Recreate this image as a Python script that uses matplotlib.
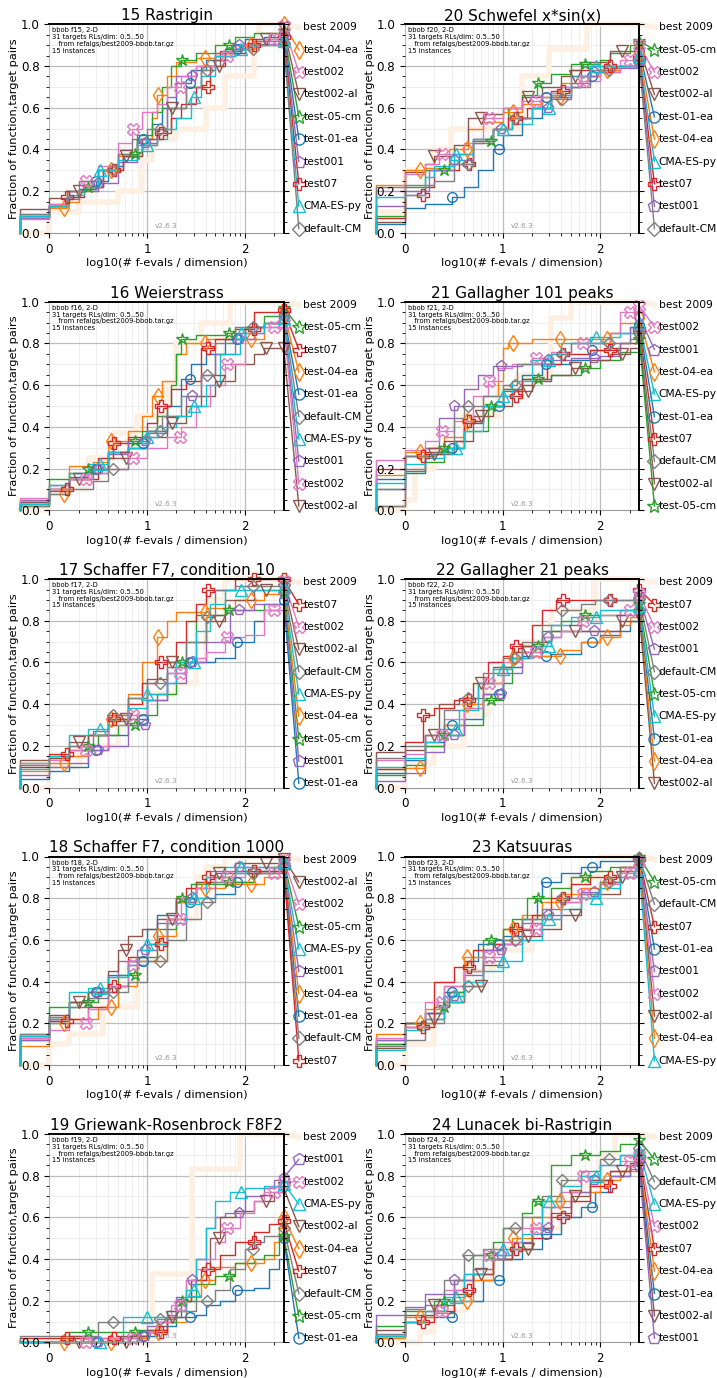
import numpy as np
import matplotlib.pyplot as plt
from matplotlib.ticker import FixedLocator, MultipleLocator

# ---- algorithms and styles (COCO-like) ----
algs = ['test-01-ea', 'test-04-ea', 'test-05-cm', 'test07', 'test001',
        'test002-al', 'test002', 'default-CM', 'CMA-ES-py']
colors = {'test-01-ea': '#1f77b4', 'test-04-ea': '#ff7f0e', 'test-05-cm': '#2ca02c',
          'test07': '#d62728', 'test001': '#9467bd', 'test002-al': '#8c564b',
          'test002': '#e377c2', 'default-CM': '#7f7f7f', 'CMA-ES-py': '#17becf'}
markers = {'test-01-ea': 'o', 'test-04-ea': 'd', 'test-05-cm': '*', 'test07': 'P',
           'test001': 'p', 'test002-al': 'v', 'test002': 'X', 'default-CM': 'D',
           'CMA-ES-py': '^'}
msizes = {'o': 7, 'd': 8, '*': 9, 'P': 8, 'p': 8, 'v': 8, 'X': 8, 'D': 6, '^': 8}
mark_start = {'test-01-ea': 0.48, 'test-04-ea': 0.15, 'test-05-cm': 0.40, 'test07': 0.18,
              'test001': 0.50, 'test002-al': 0.30, 'test002': 0.38, 'default-CM': 0.65,
              'CMA-ES-py': 0.52}
ref_name = 'best 2009'

# ---- ECDF breakpoints: (log10 evals/dim, fraction) ----
f15 = {
    'best 2009': [(-0.3, 0), (0, .1), (.3, .15), (.7, .2), (.95, .35), (1.05, .45), (1.3, .5), (1.6, .6), (1.8, .75), (2.1, .88), (2.15, 1.0), (2.4, 1.0)],
    'test-01-ea': [(-0.3, .08), (0, .13), (.18, .17), (.3, .21), (.48, .25), (.6, .32), (.75, .37), (.9, .45), (1.05, .52), (1.15, .6), (1.3, .72), (1.45, .78), (1.6, .83), (1.8, .88), (2.0, .93), (2.2, .94), (2.4, .96)],
    'test-04-ea': [(-0.3, .09), (0, .12), (.18, .15), (.3, .2), (.5, .3), (.7, .37), (.9, .45), (1.05, .55), (1.1, .66), (1.2, .75), (1.3, .82), (1.5, .84), (1.7, .86), (1.9, .9), (2.1, .92), (2.25, .96), (2.4, 1.0)],
    'test-05-cm': [(-0.3, .08), (0, .14), (.18, .2), (.35, .22), (.5, .3), (.7, .38), (.9, .47), (1.05, .58), (1.15, .7), (1.25, .8), (1.35, .83), (1.5, .86), (1.7, .9), (1.9, .94), (2.1, .96), (2.4, .97)],
    'test07': [(-0.3, .07), (0, .13), (.18, .17), (.35, .22), (.55, .3), (.75, .37), (.95, .42), (1.1, .48), (1.25, .55), (1.35, .62), (1.5, .7), (1.65, .8), (1.8, .86), (2.0, .9), (2.4, .94)],
    'test001': [(-0.3, .07), (0, .13), (.18, .16), (.3, .2), (.5, .24), (.7, .34), (.9, .43), (1.1, .5), (1.2, .65), (1.3, .75), (1.5, .8), (1.7, .86), (1.9, .9), (2.1, .92), (2.4, .95)],
    'test002-al': [(-0.3, .115), (0, .165), (.2, .2), (.35, .22), (.55, .3), (.75, .37), (.95, .45), (1.1, .5), (1.25, .6), (1.4, .7), (1.55, .8), (1.75, .87), (1.95, .9), (2.2, .93), (2.4, .98)],
    'test002': [(-0.3, .065), (0, .14), (.18, .2), (.35, .25), (.5, .32), (.7, .43), (.85, .5), (.95, .58), (1.1, .62), (1.2, .7), (1.35, .75), (1.5, .8), (1.7, .85), (1.9, .9), (2.2, .93), (2.4, .99)],
    'default-CM': [(-0.3, .09), (0, .13), (.18, .2), (.3, .25), (.5, .3), (.7, .38), (.85, .45), (1.0, .5), (1.2, .6), (1.4, .7), (1.55, .78), (1.7, .85), (1.9, .88), (2.1, .905), (2.4, .91)],
    'CMA-ES-py': [(-0.3, .08), (0, .13), (.2, .18), (.35, .22), (.5, .3), (.7, .35), (.9, .42), (1.1, .45), (1.2, .5), (1.3, .55), (1.45, .65), (1.55, .75), (1.7, .85), (1.9, .88), (2.1, .9), (2.4, .92)],
}
f20 = {
    'best 2009': [(-0.3, .1), (0, .3), (.3, .4), (.47, .5), (1.2, .75), (1.47, .88), (1.86, 1.0), (2.4, 1.0)],
    'test-05-cm': [(-0.3, .08), (0, .22), (.2, .3), (.45, .33), (.55, .38), (.7, .44), (.9, .5), (1.05, .6), (1.2, .66), (1.35, .72), (1.5, .76), (1.7, .81), (2.0, .83), (2.1, .86), (2.3, .9), (2.4, .92)],
    'test002': [(-0.3, .2), (0, .28), (.2, .33), (.35, .38), (.6, .43), (.8, .55), (1.0, .6), (1.2, .63), (1.4, .67), (1.6, .7), (1.8, .73), (2.0, .77), (2.2, .83), (2.4, .9)],
    'test002-al': [(-0.3, .05), (0, .29), (.2, .33), (.3, .37), (.5, .42), (.65, .55), (.8, .57), (1.0, .6), (1.2, .65), (1.4, .7), (1.6, .75), (1.8, .82), (2.1, .87), (2.4, .89)],
    'test-01-ea': [(-0.3, .04), (0, .12), (.2, .14), (.48, .17), (.6, .22), (.75, .3), (.9, .4), (1.0, .47), (1.2, .55), (1.4, .65), (1.6, .7), (1.8, .75), (2.0, .77), (2.2, .8), (2.4, .87)],
    'test-04-ea': [(-0.3, .23), (0, .3), (.2, .31), (.45, .4), (.65, .5), (.8, .53), (1.0, .58), (1.2, .62), (1.4, .65), (1.6, .72), (1.8, .75), (2.0, .78), (2.2, .8), (2.4, .86)],
    'CMA-ES-py': [(-0.3, .17), (0, .18), (.2, .27), (.3, .32), (.5, .38), (.7, .45), (.9, .5), (1.1, .52), (1.3, .6), (1.5, .66), (1.7, .75), (1.9, .8), (2.4, .85)],
    'test07': [(-0.3, .07), (0, .18), (.2, .22), (.3, .3), (.55, .33), (.7, .45), (.9, .5), (1.05, .55), (1.25, .6), (1.5, .68), (1.7, .78), (1.9, .8), (2.4, .84)],
    'test001': [(-0.3, .13), (0, .2), (.25, .3), (.5, .35), (.7, .45), (.9, .5), (1.1, .55), (1.3, .6), (1.5, .65), (1.7, .72), (1.9, .77), (2.1, .79), (2.4, .83)],
    'default-CM': [(-0.3, .22), (0, .23), (.3, .25), (.5, .33), (.7, .43), (.9, .5), (1.1, .55), (1.3, .6), (1.5, .64), (1.7, .7), (1.9, .78), (2.1, .8), (2.4, .82)],
}
f16 = {
    'best 2009': [(-0.3, 0), (0, .1), (.4, .25), (.65, .37), (.9, .45), (1.2, .6), (1.3, .8), (1.55, .9), (1.85, 1.0), (2.4, 1.0)],
    'test-05-cm': [(-0.3, .02), (0, .15), (.2, .18), (.4, .2), (.6, .28), (.8, .33), (.95, .38), (1.1, .45), (1.2, .5), (1.25, .6), (1.3, .75), (1.35, .82), (1.5, .84), (1.8, .85), (2.0, .88), (2.2, .93), (2.4, .97)],
    'test07': [(-0.3, .04), (0, .1), (.2, .15), (.5, .25), (.65, .32), (.8, .35), (1.0, .42), (1.1, .5), (1.25, .58), (1.4, .62), (1.55, .78), (1.7, .82), (1.9, .87), (2.1, .95), (2.4, .96)],
    'test-04-ea': [(-0.3, .05), (0, .08), (.2, .21), (.45, .23), (.6, .33), (.8, .38), (.95, .45), (1.05, .55), (1.15, .62), (1.3, .75), (1.4, .8), (1.6, .82), (2.2, .9), (2.4, .95)],
    'test-01-ea': [(-0.3, .03), (0, .1), (.2, .16), (.4, .2), (.6, .28), (.8, .32), (1.0, .38), (1.2, .5), (1.35, .63), (1.45, .7), (1.6, .75), (1.8, .82), (2.0, .88), (2.2, .9), (2.4, .94)],
    'default-CM': [(-0.3, .02), (0, .08), (.2, .1), (.45, .14), (.6, .2), (.8, .3), (1.0, .38), (1.15, .45), (1.35, .55), (1.55, .65), (1.7, .8), (1.9, .88), (2.2, .9), (2.4, .93)],
    'CMA-ES-py': [(-0.3, .03), (0, .12), (.2, .18), (.4, .22), (.6, .28), (.8, .3), (1.0, .35), (1.1, .4), (1.3, .45), (1.45, .5), (1.6, .6), (1.75, .75), (1.95, .85), (2.2, .9), (2.4, .92)],
    'test001': [(-0.3, .05), (0, .12), (.2, .15), (.45, .2), (.6, .27), (.8, .33), (1.0, .37), (1.2, .45), (1.4, .55), (1.55, .65), (1.7, .75), (1.9, .82), (2.1, .88), (2.4, .91)],
    'test002': [(-0.3, .06), (0, .1), (.2, .15), (.4, .18), (.6, .2), (.8, .25), (1.0, .3), (1.2, .35), (1.35, .4), (1.5, .5), (1.65, .6), (1.8, .7), (2.0, .85), (2.2, .88), (2.4, .9)],
    'test002-al': [(-0.3, .04), (0, .09), (.2, .15), (.4, .18), (.6, .25), (.8, .3), (1.0, .35), (1.2, .42), (1.4, .5), (1.55, .55), (1.7, .62), (1.9, .7), (2.1, .75), (2.2, .78), (2.4, .78)],
}
f21 = {
    'best 2009': [(-0.3, 0), (0, .05), (.1, .2), (.3, .3), (.6, .45), (.95, .58), (1.15, .65), (1.5, .92), (1.7, 1.0), (2.4, 1.0)],
    'test002': [(-0.3, .24), (0, .29), (.2, .33), (.35, .38), (.5, .43), (.7, .55), (.85, .62), (.95, .68), (1.1, .7), (1.3, .73), (1.5, .76), (1.7, .8), (2.1, .85), (2.2, .95), (2.4, .98)],
    'test001': [(-0.3, .1), (0, .2), (.2, .3), (.35, .44), (.5, .5), (.6, .58), (.75, .65), (.9, .69), (1.2, .7), (1.4, .72), (1.7, .73), (2.0, .74), (2.2, .8), (2.3, .88), (2.4, .93)],
    'test-04-ea': [(-0.3, .17), (0, .28), (.2, .3), (.4, .35), (.6, .43), (.8, .55), (.95, .62), (1.0, .78), (1.05, .8), (1.3, .82), (2.1, .85), (2.2, .9), (2.4, .92)],
    'CMA-ES-py': [(-0.3, .13), (0, .22), (.2, .25), (.4, .3), (.6, .38), (.8, .5), (1.0, .55), (1.1, .62), (1.3, .72), (1.5, .75), (1.6, .8), (1.9, .83), (2.2, .85), (2.4, .9)],
    'test-01-ea': [(-0.3, .15), (0, .18), (.2, .27), (.4, .3), (.6, .42), (.8, .5), (1.0, .58), (1.2, .65), (1.4, .7), (1.7, .72), (1.9, .77), (2.1, .85), (2.3, .88), (2.4, .89)],
    'test07': [(-0.3, .2), (0, .26), (.2, .28), (.4, .33), (.6, .43), (.8, .5), (1.0, .55), (1.2, .63), (1.45, .7), (1.6, .75), (1.9, .77), (2.2, .8), (2.4, .87)],
    'default-CM': [(-0.3, .02), (0, .26), (.3, .28), (.5, .44), (.6, .5), (.8, .55), (1.0, .6), (1.15, .7), (1.5, .75), (1.7, .8), (2.3, .82), (2.4, .85)],
    'test002-al': [(-0.3, .02), (0, .26), (.3, .27), (.5, .33), (.7, .45), (.9, .5), (1.1, .57), (1.3, .62), (1.5, .65), (1.7, .68), (1.9, .72), (2.1, .75), (2.3, .78), (2.4, .83)],
    'test-05-cm': [(-0.3, .1), (0, .19), (.2, .23), (.4, .3), (.6, .38), (.85, .5), (1.0, .57), (1.2, .63), (1.5, .65), (1.8, .68), (2.0, .72), (2.2, .76), (2.4, .82)],
}
f17 = {
    'best 2009': [(-0.3, 0), (0, .1), (.3, .2), (.7, .35), (1.0, .45), (1.3, .5), (1.5, .6), (1.6, .9), (1.8, 1.0), (2.4, 1.0)],
    'test07': [(-0.3, .1), (0, .16), (.2, .18), (.4, .25), (.6, .33), (.8, .4), (.95, .5), (1.1, .6), (1.3, .7), (1.4, .8), (1.5, .88), (1.6, .95), (1.9, 1.0), (2.4, 1.0)],
    'test002': [(-0.3, .12), (0, .13), (.2, .18), (.4, .2), (.6, .3), (.8, .35), (1.0, .45), (1.2, .55), (1.4, .62), (1.6, .65), (1.8, .72), (2.0, .73), (2.2, .85), (2.4, .99)],
    'test002-al': [(-0.3, .13), (0, .14), (.2, .22), (.4, .25), (.6, .33), (.8, .43), (1.0, .52), (1.2, .6), (1.4, .7), (1.6, .8), (1.8, .9), (2.1, .95), (2.4, .98)],
    'default-CM': [(-0.3, .11), (0, .15), (.2, .2), (.45, .27), (.6, .35), (.8, .43), (1.0, .5), (1.2, .58), (1.4, .7), (1.6, .82), (1.7, .95), (1.9, .965), (2.4, .97)],
    'CMA-ES-py': [(-0.3, .09), (0, .15), (.2, .25), (.4, .28), (.6, .32), (.8, .38), (1.0, .45), (1.2, .5), (1.3, .6), (1.5, .75), (1.65, .88), (1.8, .95), (2.4, .96)],
    'test-04-ea': [(-0.3, .08), (0, .12), (.2, .15), (.4, .25), (.6, .33), (.8, .45), (.95, .6), (1.1, .72), (1.2, .8), (1.3, .84), (1.6, .86), (1.9, .9), (2.2, .93), (2.4, .95)],
    'test-05-cm': [(-0.3, .12), (0, .14), (.2, .2), (.5, .25), (.7, .3), (.9, .35), (1.1, .45), (1.3, .6), (1.5, .83), (1.8, .85), (2.2, .88), (2.4, .94)],
    'test001': [(-0.3, .06), (0, .1), (.2, .12), (.4, .18), (.6, .2), (.8, .3), (1.0, .42), (1.2, .5), (1.4, .6), (1.6, .7), (1.85, .85), (2.1, .88), (2.4, .93)],
    'test-01-ea': [(-0.3, .04), (0, .08), (.2, .1), (.4, .18), (.6, .25), (.8, .33), (1.0, .42), (1.2, .55), (1.4, .6), (1.7, .62), (1.9, .7), (2.1, .8), (2.2, .85), (2.4, .9)],
}
f22 = {
    'best 2009': [(-0.3, 0), (0, .12), (.3, .2), (.6, .35), (.85, .5), (1.0, .6), (1.2, .7), (1.5, .85), (1.95, 1.0), (2.4, 1.0)],
    'test07': [(-0.3, .09), (0, .22), (.18, .35), (.3, .38), (.5, .42), (.7, .5), (.85, .6), (1.0, .63), (1.1, .68), (1.3, .78), (1.4, .85), (1.55, .9), (2.4, .95)],
    'test002': [(-0.3, .13), (0, .16), (.2, .25), (.4, .33), (.6, .38), (.8, .5), (1.0, .6), (1.2, .65), (1.4, .72), (1.6, .75), (1.8, .8), (2.0, .83), (2.2, .85), (2.4, .93)],
    'test001': [(-0.3, .03), (0, .07), (.2, .17), (.4, .25), (.6, .38), (.8, .45), (1.0, .55), (1.2, .65), (1.4, .72), (1.6, .75), (2.2, .83), (2.4, .92)],
    'default-CM': [(-0.3, .14), (0, .2), (.2, .25), (.4, .37), (.6, .43), (.8, .55), (1.0, .62), (1.2, .7), (1.4, .78), (1.6, .85), (1.8, .88), (1.95, .9), (2.4, .905)],
    'test-05-cm': [(-0.3, .06), (0, .11), (.2, .2), (.4, .25), (.6, .3), (.8, .42), (1.0, .5), (1.1, .62), (1.2, .68), (1.4, .75), (1.6, .8), (1.8, .83), (2.2, .85), (2.4, .88)],
    'CMA-ES-py': [(-0.3, .1), (0, .14), (.2, .22), (.35, .28), (.55, .37), (.75, .5), (.9, .57), (1.1, .62), (1.3, .68), (1.5, .78), (1.7, .82), (2.0, .85), (2.4, .87)],
    'test-01-ea': [(-0.3, .07), (0, .13), (.2, .22), (.4, .3), (.6, .33), (.8, .45), (1.0, .58), (1.2, .63), (1.5, .64), (1.8, .7), (2.0, .73), (2.2, .75), (2.3, .8), (2.4, .85)],
    'test-04-ea': [(-0.3, .09), (0, .095), (.2, .2), (.4, .3), (.6, .4), (.8, .5), (1.0, .58), (1.1, .62), (1.3, .63), (1.6, .66), (1.8, .7), (2.0, .72), (2.2, .78), (2.3, .82), (2.4, .84)],
    'test002-al': [(-0.3, .17), (0, .18), (.2, .25), (.35, .4), (.55, .43), (.75, .5), (.9, .58), (1.1, .65), (1.3, .7), (1.5, .75), (2.2, .8), (2.4, .83)],
}
f18 = {
    'best 2009': [(-0.3, 0), (0, .1), (.2, .15), (.55, .28), (.9, .5), (1.2, .7), (1.5, .9), (1.6, .95), (1.8, 1.0), (2.4, 1.0)],
    'test002-al': [(-0.3, .14), (0, .24), (.2, .3), (.4, .35), (.6, .45), (.7, .55), (.8, .62), (.95, .65), (1.1, .7), (1.3, .8), (1.5, .88), (1.7, .92), (1.9, .97), (2.4, .99)],
    'test002': [(-0.3, .13), (0, .17), (.2, .2), (.4, .27), (.6, .38), (.8, .48), (1.0, .58), (1.2, .7), (1.35, .8), (1.5, .85), (1.7, .9), (2.0, .92), (2.4, .985)],
    'test-05-cm': [(-0.3, .15), (0, .28), (.3, .3), (.5, .35), (.7, .43), (.9, .52), (1.1, .65), (1.3, .8), (1.45, .87), (1.8, .88), (2.1, .92), (2.3, .95), (2.4, .98)],
    'CMA-ES-py': [(-0.3, .14), (0, .2), (.2, .35), (.4, .37), (.6, .42), (.8, .48), (1.0, .58), (1.2, .68), (1.4, .8), (1.6, .9), (1.8, .95), (2.4, .975)],
    'test001': [(-0.3, .12), (0, .22), (.2, .3), (.4, .35), (.6, .42), (.7, .5), (.9, .55), (1.1, .68), (1.3, .8), (1.5, .88), (1.65, .93), (1.9, .95), (2.4, .97)],
    'test-04-ea': [(-0.3, .09), (0, .2), (.2, .22), (.5, .28), (.7, .38), (.9, .5), (1.1, .62), (1.3, .78), (1.5, .85), (1.8, .87), (2.2, .9), (2.4, .965)],
    'test-01-ea': [(-0.3, .12), (0, .22), (.2, .3), (.4, .35), (.6, .43), (.8, .5), (1.0, .65), (1.1, .72), (1.3, .78), (1.5, .8), (1.7, .82), (1.9, .88), (2.1, .93), (2.4, .96)],
    'default-CM': [(-0.3, .15), (0, .23), (.2, .28), (.4, .32), (.6, .35), (.8, .4), (1.0, .5), (1.2, .6), (1.4, .7), (1.55, .78), (1.7, .88), (1.9, .92), (2.4, .955)],
    'test07': [(-0.3, .13), (0, .21), (.2, .22), (.4, .28), (.6, .38), (.8, .52), (1.0, .58), (1.2, .7), (1.4, .85), (1.6, .9), (1.9, .93), (2.4, .95)],
}
f23 = {
    'best 2009': [(-0.3, 0), (0, .1), (.3, .3), (.6, .45), (.9, .55), (1.3, .7), (1.5, .8), (1.7, .9), (2.0, 1.0), (2.4, 1.0)],
    'test-05-cm': [(-0.3, .1), (0, .2), (.3, .28), (.45, .35), (.6, .45), (.8, .6), (1.0, .65), (1.1, .7), (1.25, .8), (1.5, .85), (1.7, .9), (1.9, .93), (2.1, .95), (2.4, 1.0)],
    'default-CM': [(-0.3, .09), (0, .12), (.2, .2), (.4, .3), (.6, .38), (.8, .5), (1.0, .6), (1.2, .7), (1.4, .75), (1.6, .8), (1.8, .82), (2.0, .88), (2.2, .95), (2.4, .995)],
    'test07': [(-0.3, .12), (0, .18), (.3, .4), (.5, .47), (.7, .55), (.9, .58), (1.1, .65), (1.3, .72), (1.5, .8), (1.7, .87), (1.9, .9), (2.2, .95), (2.4, .99)],
    'test-01-ea': [(-0.3, .1), (0, .2), (.2, .25), (.4, .35), (.6, .5), (.75, .58), (1.0, .62), (1.2, .7), (1.35, .8), (1.4, .88), (1.6, .92), (1.8, .95), (2.0, .98), (2.4, .985)],
    'test001': [(-0.3, .12), (0, .18), (.2, .25), (.4, .33), (.6, .43), (.8, .55), (1.0, .6), (1.2, .68), (1.4, .72), (1.6, .78), (1.8, .83), (2.0, .88), (2.2, .93), (2.4, .98)],
    'test002': [(-0.3, .13), (0, .18), (.2, .3), (.4, .38), (.6, .45), (.8, .52), (1.0, .58), (1.2, .65), (1.4, .7), (1.6, .78), (1.8, .82), (2.0, .87), (2.2, .92), (2.4, .975)],
    'test002-al': [(-0.3, .08), (0, .2), (.2, .22), (.4, .3), (.6, .38), (.8, .48), (1.0, .58), (1.2, .62), (1.4, .65), (1.6, .72), (1.8, .8), (2.0, .82), (2.2, .9), (2.4, .97)],
    'test-04-ea': [(-0.3, .15), (0, .2), (.2, .27), (.4, .38), (.6, .52), (.8, .55), (1.0, .65), (1.2, .72), (1.4, .78), (1.6, .82), (1.8, .85), (2.0, .88), (2.2, .93), (2.4, .965)],
    'CMA-ES-py': [(-0.3, .07), (0, .17), (.2, .22), (.4, .33), (.6, .4), (.8, .45), (1.0, .5), (1.2, .6), (1.4, .7), (1.6, .75), (1.8, .8), (2.0, .85), (2.2, .9), (2.4, .94)],
}
f19 = {
    'best 2009': [(-0.3, 0), (1.05, .33), (1.46, .83), (1.95, 1.0), (2.4, 1.0)],
    'test001': [(-0.3, 0), (.9, .03), (1.0, .08), (1.1, .1), (1.2, .13), (1.3, .22), (1.4, .3), (1.5, .4), (1.6, .55), (1.7, .6), (1.8, .62), (2.0, .7), (2.2, .74), (2.3, .78), (2.4, .79)],
    'test002': [(-0.3, 0), (.4, .02), (.9, .05), (1.1, .1), (1.25, .18), (1.4, .3), (1.5, .35), (1.6, .4), (1.7, .48), (1.8, .55), (1.95, .62), (2.1, .68), (2.2, .72), (2.4, .77)],
    'CMA-ES-py': [(-0.3, 0), (.75, .12), (1.2, .15), (1.4, .25), (1.5, .4), (1.6, .55), (1.7, .68), (1.85, .72), (2.0, .74), (2.2, .75), (2.4, .76)],
    'test002-al': [(-0.3, 0), (.8, .03), (1.0, .06), (1.2, .12), (1.35, .2), (1.45, .3), (1.55, .35), (1.65, .5), (1.75, .6), (1.9, .63), (2.1, .68), (2.3, .72), (2.4, .74)],
    'test-04-ea': [(-0.3, 0), (.67, .02), (1.0, .05), (1.2, .1), (1.4, .22), (1.55, .3), (1.7, .36), (1.9, .38), (2.2, .4), (2.3, .48), (2.35, .55), (2.4, .6)],
    'test07': [(-0.3, .02), (.8, .03), (1.0, .05), (1.2, .12), (1.3, .2), (1.45, .3), (1.6, .35), (1.75, .42), (1.9, .48), (2.1, .53), (2.25, .57), (2.4, .58)],
    'default-CM': [(-0.3, .03), (.5, .1), (1.1, .11), (1.3, .15), (1.5, .2), (1.7, .25), (1.85, .35), (2.0, .45), (2.1, .48), (2.2, .51), (2.4, .55)],
    'test-05-cm': [(-0.3, 0), (.2, .05), (.9, .06), (1.1, .1), (1.3, .2), (1.5, .28), (1.7, .32), (1.9, .38), (2.1, .4), (2.2, .42), (2.35, .5), (2.4, .51)],
    'test-01-ea': [(-0.3, 0), (.9, .03), (1.1, .08), (1.3, .12), (1.5, .13), (1.6, .18), (1.75, .2), (1.9, .25), (2.1, .26), (2.25, .35), (2.35, .4), (2.4, .5)],
}
f24 = {
    'best 2009': [(-0.3, 0), (.15, .05), (.3, .15), (.6, .3), (.9, .45), (1.3, .55), (1.6, .75), (2.0, .9), (2.15, 1.0), (2.4, 1.0)],
    'test-05-cm': [(-0.3, .08), (0, .15), (.3, .2), (.5, .3), (.7, .42), (.9, .48), (1.0, .55), (1.2, .62), (1.3, .68), (1.5, .85), (1.7, .9), (2.0, .92), (2.2, .95), (2.4, .97)],
    'default-CM': [(-0.3, .04), (0, .16), (.2, .18), (.4, .3), (.6, .42), (.8, .45), (1.0, .55), (1.2, .6), (1.4, .7), (1.6, .78), (1.8, .82), (2.0, .88), (2.2, .9), (2.4, .93)],
    'CMA-ES-py': [(-0.3, .03), (0, .1), (.2, .15), (.4, .22), (.6, .33), (.8, .4), (1.0, .45), (1.2, .52), (1.4, .68), (1.6, .75), (1.8, .8), (2.0, .85), (2.2, .9), (2.4, .92)],
    'test002': [(-0.3, .03), (0, .1), (.2, .15), (.4, .25), (.6, .33), (.8, .42), (1.0, .48), (1.2, .55), (1.4, .65), (1.6, .72), (1.8, .8), (2.0, .85), (2.2, .87), (2.4, .9)],
    'test07': [(-0.3, .03), (0, .1), (.3, .15), (.5, .25), (.7, .33), (.9, .4), (1.1, .45), (1.3, .5), (1.5, .6), (1.7, .68), (1.9, .75), (2.1, .82), (2.3, .86), (2.4, .89)],
    'test-04-ea': [(-0.3, .02), (0, .12), (.3, .14), (.5, .2), (.7, .3), (.9, .4), (1.1, .5), (1.3, .6), (1.5, .68), (1.7, .72), (2.0, .78), (2.2, .82), (2.4, .88)],
    'test-01-ea': [(-0.3, .03), (0, .1), (.2, .12), (.5, .2), (.8, .3), (1.0, .4), (1.2, .45), (1.4, .52), (1.6, .6), (1.8, .65), (1.95, .72), (2.1, .8), (2.3, .85), (2.4, .87)],
    'test002-al': [(-0.3, .06), (0, .13), (.3, .18), (.5, .23), (.7, .33), (.9, .4), (1.1, .45), (1.3, .55), (1.5, .62), (1.7, .7), (1.9, .78), (2.1, .82), (2.3, .85), (2.4, .86)],
    'test001': [(-0.3, .13), (0, .17), (.2, .23), (.5, .3), (.7, .35), (.9, .42), (1.1, .48), (1.3, .55), (1.5, .65), (1.7, .72), (1.9, .78), (2.1, .8), (2.3, .83), (2.4, .84)],
}

panels = [(15, 'Rastrigin', f15), (20, 'Schwefel x*sin(x)', f20),
          (16, 'Weierstrass', f16), (21, 'Gallagher 101 peaks', f21),
          (17, 'Schaffer F7, condition 10', f17), (22, 'Gallagher 21 peaks', f22),
          (18, 'Schaffer F7, condition 1000', f18), (23, 'Katsuuras', f23),
          (19, 'Griewank-Rosenbrock F8F2', f19), (24, 'Lunacek bi-Rastrigin', f24)]

x_max = 2.4
label_y = np.linspace(0.985, 0.02, 10)
ref_color = '#fdf0e3'
y_ticks = [0.0, 0.2, 0.4, 0.6, 0.8, 1.0]
x_minor = [d + np.log10(m) for d in range(3) for m in range(2, 10) if d + np.log10(m) < x_max]

fig = plt.figure(figsize=(7.17, 13.78), dpi=100)
W, H = 717.0, 1378.0
for i, (fid, name, data) in enumerate(panels):
    row, col = divmod(i, 2)
    left_px = 49.4 if col == 0 else 405.0
    top_px = 24.3 + 277.4 * row
    ax = fig.add_axes([left_px / W, 1 - (top_px + 208.5) / H, 234.3 / W, 208.5 / H])

    # grid drawn by hand so the tick labels can sit above the curves
    for xv in x_minor:
        ax.axvline(xv, color='#ececec', lw=0.6, zorder=0.1)
    for yv in np.arange(0.1, 1.0, 0.2):
        ax.axhline(yv, color='#ececec', lw=0.6, zorder=0.1)
    for xv in [0, 1, 2]:
        ax.axvline(xv, color='#bdbdbd', lw=0.9, zorder=0.2)
    for yv in y_ticks[1:-1]:
        ax.axhline(yv, color='#bdbdbd', lw=0.9, zorder=0.2)

    # reference algorithm
    rx, ry = zip(*data[ref_name])
    ax.step([-0.3] + list(rx), [0] + list(ry), where='post', color=ref_color,
            lw=4, zorder=1, clip_on=False)

    finals = {a: data[a][-1][1] for a in algs}
    order = sorted(algs, key=lambda a: -finals[a])

    for a in algs:
        xs = [-0.3] + [p[0] for p in data[a]]
        ys = [0] + [p[1] for p in data[a]]
        c = colors[a]
        ax.step(xs, ys, where='post', color=c, lw=1.0, zorder=2, clip_on=False)
        xm = np.arange(mark_start[a], 2.31, 0.48)
        idx = np.searchsorted(xs, xm, side='right') - 1
        ym = np.array(ys)[idx]
        ax.plot(list(xm) + [x_max], list(ym) + [ys[-1]], ls='none', marker=markers[a],
                ms=msizes[markers[a]], mfc='none', mec=c, mew=1.0, zorder=2.2, clip_on=False)

    # labels on the right
    ax.plot([x_max, 2.555], [1.0, label_y[0]], color=ref_color, lw=4, zorder=1,
            clip_on=False)
    ax.text(2.6, label_y[0], ref_name, fontsize=7.7, va='center', ha='left')
    for k, a in enumerate(order):
        yl = label_y[k + 1]
        c = colors[a]
        ax.plot([x_max, 2.555], [finals[a], yl], color=c, lw=1.0, zorder=2, clip_on=False)
        ax.plot([2.555], [yl], marker=markers[a], ms=msizes[markers[a]] + 1, mfc='none',
                mec=c, mew=1.0, clip_on=False, zorder=2.2)
        ax.text(2.6, yl, a, fontsize=7.7, va='center', ha='left')

    ax.set_xlim(0, x_max)
    ax.set_ylim(0, 1)
    ax.set_xticks([0, 1, 2])
    ax.set_xticklabels(['0', '1', '2'])
    ax.xaxis.set_minor_locator(FixedLocator(x_minor))
    ax.set_yticks(y_ticks)
    ax.set_yticklabels(['%.1f' % v for v in y_ticks])
    ax.yaxis.set_minor_locator(MultipleLocator(0.05))
    ax.tick_params(axis='both', which='major', labelsize=8.6, length=3.5)
    ax.tick_params(axis='y', which='both', right=True, left=True)
    ax.tick_params(which='minor', length=2)
    ax.set_axisbelow(False)
    for s in ['top', 'right']:
        ax.spines[s].set_color('black')
        ax.spines[s].set_linewidth(1.4)
        ax.spines[s].set_zorder(5)
    ax.spines['left'].set_visible(False)
    ax.spines['bottom'].set_color('#9a9a9a')

    ax.set_title('%d %s' % (fid, name), fontsize=11, pad=3)
    ax.set_xlabel('log10(# f-evals / dimension)', fontsize=8.2, labelpad=2)
    ax.set_ylabel('Fraction of function,target pairs', fontsize=8.2, labelpad=1)
    ax.text(0.012, 0.985, 'bbob f%d, 2-D\n31 targets RLs/dim: 0.5..50\n'
            '   from refalgs/best2009-bbob.tar.gz\n15 instances' % fid,
            transform=ax.transAxes, fontsize=4.9, va='top', ha='left', linespacing=1.15)
    ax.text(0.5, 0.032, 'v2.6.3', transform=ax.transAxes, fontsize=5.2, color='#999999',
            ha='center', va='center')

fig.savefig('out.png', dpi=100)
